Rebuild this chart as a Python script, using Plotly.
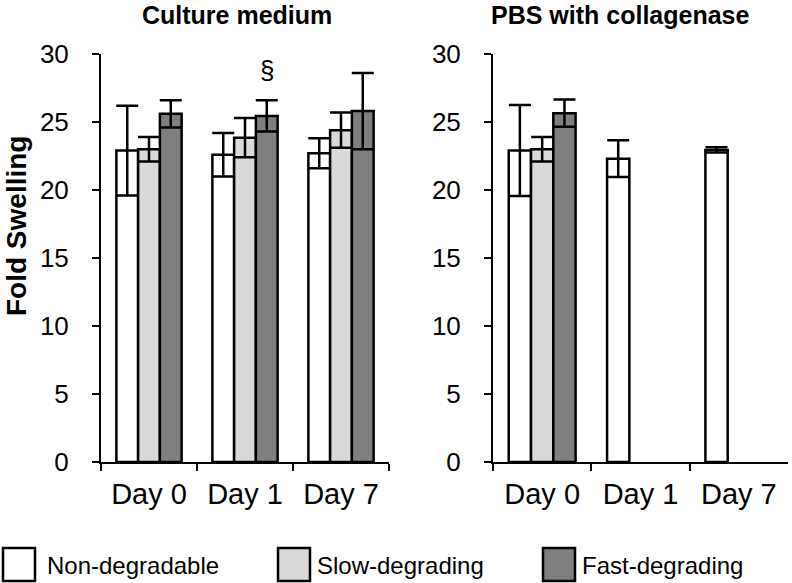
import plotly.graph_objects as go

days = ["Day 0", "Day 1", "Day 7"]
series_names = ["Non-degradable", "Slow-degrading", "Fast-degrading"]
series_colors = ["#ffffff", "#d9d9d9", "#7f7f7f"]

# Culture medium
cm_non = [22.9, 22.6, 22.7]
cm_non_err = [3.3, 1.6, 1.1]
cm_slow = [23.0, 23.85, 24.4]
cm_slow_err = [0.9, 1.45, 1.3]
cm_fast = [25.6, 25.45, 25.8]
cm_fast_err = [1.0, 1.15, 2.8]

# PBS with collagenase
pbs_non = [22.9, 22.3, 22.95]
pbs_non_err = [3.35, 1.35, 0.2]
pbs_slow = [23.0, None, None]
pbs_slow_err = [0.9, None, None]
pbs_fast = [25.65, None, None]
pbs_fast_err = [1.0, None, None]

y_ticks = [0, 5, 10, 15, 20, 25, 30]

FONT = "Liberation Sans, Arial, sans-serif"
W = 792
H = 583


def px(x):
    return x / W


def py(y):
    return (H - y) / H


fig = go.Figure()

panels = [
    ("x", "y", [cm_non, cm_slow, cm_fast], [cm_non_err, cm_slow_err, cm_fast_err]),
    ("x2", "y2", [pbs_non, pbs_slow, pbs_fast], [pbs_non_err, pbs_slow_err, pbs_fast_err]),
]
for xa, ya, vals, errs in panels:
    for name, color, v, e in zip(series_names, series_colors, vals, errs):
        fig.add_trace(go.Bar(
            x=days, y=v, name=name, xaxis=xa, yaxis=ya,
            marker=dict(color=color, line=dict(color="black", width=2.5)),
            error_y=dict(type="data", array=e, visible=True, color="black",
                         thickness=2.5, width=11),
            showlegend=False,
        ))

xcommon = dict(type="category", showline=True, linecolor="black", linewidth=2,
               ticks="outside", tickson="boundaries", ticklen=7, tickwidth=2,
               tickcolor="black", showgrid=False, zeroline=False, automargin=False,
               tickfont=dict(family=FONT, size=29, color="black"),
               ticklabelstandoff=5)
ycommon = dict(range=[0, 30], tickvals=y_ticks, showline=True, linecolor="black",
               linewidth=2, ticks="outside", ticklen=7, tickwidth=2, tickcolor="black",
               showgrid=False, zeroline=False, automargin=False,
               tickfont=dict(family=FONT, size=26, color="black"),
               ticklabelstandoff=18)

fig.update_layout(
    template="none",
    width=W, height=H, autosize=False,
    margin=dict(l=0, r=0, t=0, b=0, pad=0),
    paper_bgcolor="white", plot_bgcolor="white",
    barmode="group", bargap=0.32, bargroupgap=0,
    xaxis=dict(domain=[px(101), px(389)], anchor="y", **xcommon),
    yaxis=dict(domain=[py(462), py(54)], anchor="x", **ycommon),
    xaxis2=dict(domain=[px(493), px(788)], anchor="y2", **xcommon),
    yaxis2=dict(domain=[py(462), py(54)], anchor="x2", **ycommon),
    showlegend=False,
)

annotations = [
    dict(text="<b>Culture medium</b>", xref="paper", yref="paper",
         x=px(237), y=py(15), xanchor="center", yanchor="middle",
         showarrow=False, font=dict(family=FONT, size=25, color="black")),
    dict(text="<b>PBS with collagenase</b>", xref="paper", yref="paper",
         x=px(620), y=py(15), xanchor="center", yanchor="middle",
         showarrow=False, font=dict(family=FONT, size=25, color="black")),
    dict(text="<b>Fold Swelling</b>", xref="paper", yref="paper",
         x=px(16), y=py(226), xanchor="center", yanchor="middle",
         textangle=-90, showarrow=False, font=dict(family=FONT, size=28, color="black")),
    dict(text="§", xref="x", yref="y", x="Day 1", y=28.8, xshift=22,
         xanchor="center", yanchor="middle", showarrow=False,
         font=dict(family=FONT, size=26, color="black")),
]

# legend drawn as boxes + labels
legend_box_x = [3, 278, 543]
legend_text_x = [47, 317, 582]
shapes = []
for bx, tx, name, color in zip(legend_box_x, legend_text_x, series_names, series_colors):
    shapes.append(dict(type="rect", xref="paper", yref="paper",
                       x0=px(bx), x1=px(bx + 32),
                       y0=py(581), y1=py(548),
                       fillcolor=color, line=dict(color="black", width=2.5)))
    annotations.append(dict(text=name, xref="paper", yref="paper",
                            x=px(tx), y=py(565),
                            xanchor="left", yanchor="middle", showarrow=False,
                            xshift=-2,
                            font=dict(family=FONT, size=24, color="black")))

fig.update_layout(annotations=annotations, shapes=shapes)

# remove the default page margin so the figure fills the window exactly
fig.write_html("out.html", config={"displayModeBar": False},
               post_script="document.body.style.margin='0';")
